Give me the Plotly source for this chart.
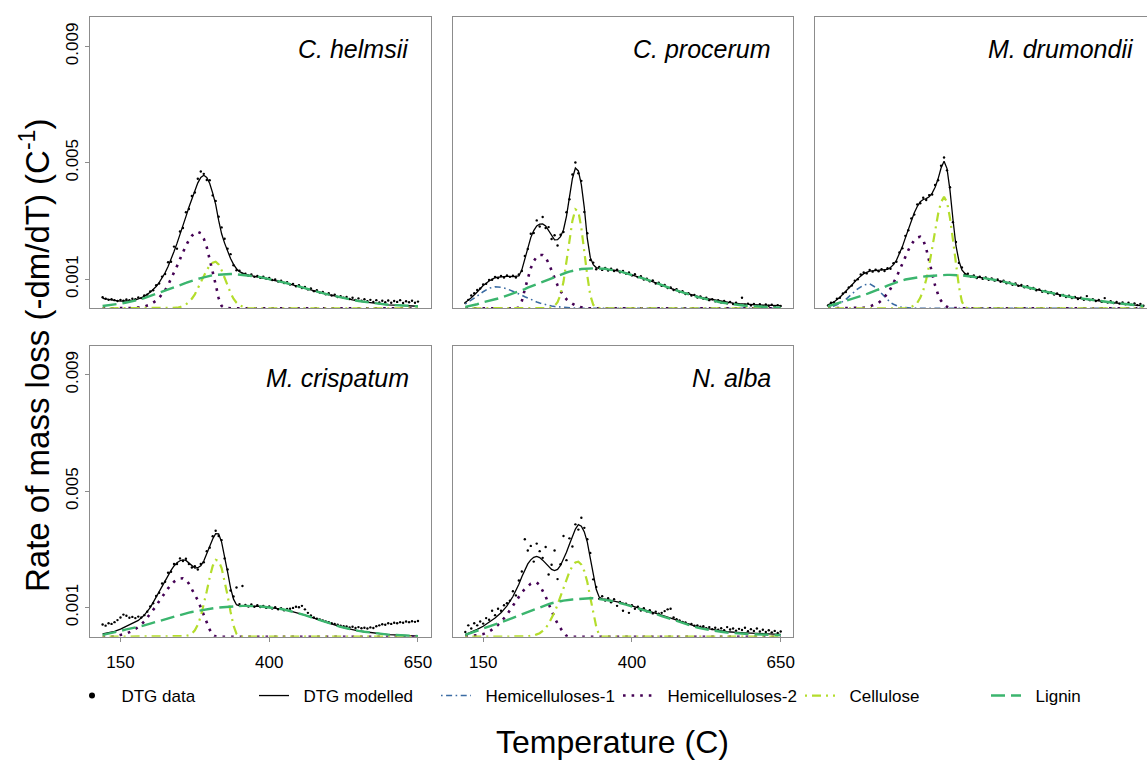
import plotly.graph_objects as go

# ---------------- data (rates in units of 1e-4 per degree C) ----------------
UNIT = 1e-4

T_DATA = [120,125,130,135,140,145,150,155,160,165,170,175,180,185,190,195,200,205,210,215,
          220,225,230,235,240,245,250,255,260,265,270,275,280,285,290,295,300,305,310,315,
          320,325,330,335,340,345,350,355,360,365,370,375,380,385,390,395,400,405,410,415,
          420,425,430,435,440,445,450,455,460,465,470,475,480,485,490,495,500,505,510,515,
          520,525,530,535,540,545,550,555,560,565,570,575,580,585,590,595,600,605,610,615,
          620,625,630,635,640,645,650]

T_MODEL = [120,130,140,150,160,170,180,190,200,
           205,210,215,220,225,230,235,240,245,250,255,260,265,270,275,280,285,290,295,300,
           305,310,315,320,325,330,335,340,345,350,355,360,365,370,375,380,385,390,395,400,
           405,410,415,420,
           430,440,450,460,470,480,490,500,510,520,530,540,550,560,570,580,590,600,610,620,
           630,640,650]

# --- C. helmsii ---
helm_data = [3.8,3.3,2.9,3.1,2.8,2.5,2.9,2.6,3.0,2.8, 3.3,3.1,3.7,3.5,4.4,4.7,5.8,6.2,7.9,8.5,
             10.9,11.8,15.8,16.0,21.2,20.5,26.4,27.6,33.0,34.1, 38.6,39.8,44.5,47.0,46.2,44.1,44.0,38.8,36.9,31.5,
             27.8,23.9,20.5,18.6,14.8,13.1,12.9,11.8,11.9,11.2, 11.6,10.8,11.1,10.5,10.9,10.2,10.4,9.7,9.9,9.2,
             9.5,8.7,9.0,8.2,8.4,7.6,7.9,7.0,7.3,6.5, 6.8,5.9,6.2,5.4,5.6,4.8,5.2,4.4,4.7,3.9,
             4.2,3.6,3.9,3.2,3.6,2.9,3.4,2.6,3.1,2.4, 2.9,2.2,2.8,2.0,2.6,2.1,2.7,1.9,2.5,2.2,
             2.8,1.8,2.4,2.1,2.6,1.9,2.3]
helm_model = [3.4,3.0,2.7,2.5,2.5,2.6,3.2,4.1,5.5,
              6.4,7.5,8.8,10.4,12.2,14.4,16.8,19.5,22.3,25.2,
              28.4,31.5,34.7,37.7,40.5,43.1,45.0,45.7,45.0,42.9,
              39.6,35.7,30.2,25.6,22.4,19.6,17.1,15.1,13.6,12.6,
              12.1,11.7,11.4,11.2,11.1,10.9,10.7,10.5,10.3,10.1,
              9.9,9.6,9.4,9.1,
              8.6,8.0,7.4,6.9,6.3,5.7,5.2,4.7,4.2,3.7,
              3.3,2.9,2.5,2.2,1.9,1.6,1.4,1.2,1.1,1.0,
              0.9,0.8,0.7]
helm_hemi2 = [0,0,0,0,0,0.1,0.3,0.6,1.3,
              1.9,2.6,3.6,4.8,6.2,8.0,10.0,12.2,14.5,16.9,
              19.3,21.5,23.4,24.9,25.9,26.3,25.8,24.0,21.0,17.0,
              12.5,8.2,3.5,0.8,0.1,0,0,0,0,0,
              0,0,0,0,0,0,0,0,0,0,
              0,0,0,0,
              0,0,0,0,0,0,0,0,0,0,0,0,0,0,0,0,0,0,0,0,0,0,0]
helm_cell = [0,0,0,0,0,0,0,0,0,
             0,0,0,0,0,0,0,0.1,0.2,0.4,
             0.8,1.3,2.2,3.3,4.8,6.7,8.8,11.0,13.1,14.7,
             15.7,16.0,15.1,13.1,10.5,7.8,5.3,3.3,1.9,1.0,
             0.5,0.2,0.1,0,0,0,0,0,0,0,
             0,0,0,0,
             0,0,0,0,0,0,0,0,0,0,0,0,0,0,0,0,0,0,0,0,0,0,0]
helm_lig = [0.8,1.0,1.3,1.6,2.0,2.4,2.9,3.5,4.2,
            4.5,4.9,5.2,5.6,6.0,6.4,6.8,7.2,7.6,7.9,
            8.3,8.7,9.1,9.5,9.8,10.1,10.4,10.7,10.9,11.2,
            11.4,11.5,11.6,11.7,11.8,11.8,11.8,11.8,11.7,11.6,
            11.6,11.5,11.3,11.2,11.1,10.9,10.7,10.5,10.3,10.1,
            9.9,9.6,9.4,9.1,
            8.6,8.0,7.4,6.9,6.3,5.7,5.2,4.7,4.2,3.7,
            3.3,2.9,2.5,2.2,1.9,1.6,1.4,1.2,1.1,1.0,
            0.9,0.8,0.7]

# --- C. procerum ---
proc_data = [1.8,2.9,4.4,5.2,6.3,6.8,8.2,8.4,9.7,9.8, 10.8,10.4,11.1,10.6,11.3,10.8,11.2,10.6,11.6,12.8,
             18.0,20.4,25.6,25.9,30.2,28.1,31.4,27.6,27.9,23.8, 25.1,21.6,25.3,26.2,33.0,37.5,46.0,50.1,46.4,43.8,
             33.1,25.8,16.6,15.7,13.4,14.2,13.2,13.9,13.0,13.6, 12.8,13.3,12.4,12.8,11.9,12.3,11.3,11.7,10.7,11.0,
             9.9,10.2,9.3,9.6,8.5,8.8,7.7,8.0,7.0,7.2, 6.3,6.6,5.6,5.9,4.9,5.2,4.4,4.6,3.7,4.1,
             3.3,3.6,2.8,3.1,2.4,2.8,2.0,2.5,1.7,2.2, 1.5,1.9,1.3,3.6,1.2,1.6,1.0,1.5,0.9,1.4,
             0.8,1.3,0.9,1.2,0.7,1.1,0.8]
proc_model = [2.0,3.6,5.6,7.8,9.4,10.5,10.8,11.0,10.9,
              10.9,11.1,13.2,17.1,21.1,24.3,26.7,28.3,28.9,29.0,
              28.3,26.7,24.9,23.5,23.6,24.6,27.0,31.6,38.2,44.6,
              48.2,47.2,42.5,34.5,24.0,17.5,15.0,14.0,13.7,13.7,
              13.6,13.4,13.3,13.1,12.9,12.7,12.4,12.2,11.9,11.6,
              11.3,10.9,10.6,10.2,
              9.5,8.7,8.0,7.2,6.5,5.8,5.2,4.6,4.0,3.6,
              3.2,2.8,2.4,2.1,1.8,1.6,1.4,1.3,1.2,1.1,
              1.0,0.9,0.9]
proc_hemi1 = [1.5,2.7,4.2,5.7,6.9,7.4,7.2,6.7,5.9,
              5.5,5.0,4.5,4.0,3.5,3.0,2.6,2.2,1.8,1.5,
              1.2,1.0,0.8,0.6,0.5,0.4,0.3,0.2,0.2,0.1,
              0.1,0,0,0,0,0,0,0,0,0,
              0,0,0,0,0,0,0,0,0,0,
              0,0,0,0,
              0,0,0,0,0,0,0,0,0,0,0,0,0,0,0,0,0,0,0,0,0,0,0]
proc_hemi2 = [0,0,0,0,0,0,0,0,0,
              0,0.3,2.5,6.5,10.5,13.8,16.2,17.7,18.3,18.3,
              17.4,15.5,13.0,10.3,7.9,5.9,4.3,3.1,2.2,1.5,
              1.0,0.6,0.3,0.1,0,0,0,0,0,0,
              0,0,0,0,0,0,0,0,0,0,
              0,0,0,0,
              0,0,0,0,0,0,0,0,0,0,0,0,0,0,0,0,0,0,0,0,0,0,0]
proc_cell = [0,0,0,0,0,0,0,0,0,
             0,0,0,0,0,0,0,0,0,0,
             0,0.1,0.3,0.8,2.1,4.7,9.1,15.6,23.2,30.1,
             34.0,33.3,27.6,19.1,11.2,4.5,1.2,0.2,0,0,
             0,0,0,0,0,0,0,0,0,0,
             0,0,0,0,
             0,0,0,0,0,0,0,0,0,0,0,0,0,0,0,0,0,0,0,0,0,0,0]
proc_lig = [0.5,0.9,1.4,2.1,2.5,3.1,3.6,4.3,5.0,
            5.4,5.8,6.2,6.6,7.1,7.5,7.9,8.4,8.8,9.2,
            9.7,10.1,10.5,10.9,11.3,11.7,12.0,12.3,12.6,12.9,
            13.1,13.3,13.5,13.6,13.7,13.8,13.8,13.8,13.7,13.7,
            13.6,13.4,13.3,13.1,12.9,12.7,12.4,12.2,11.9,11.6,
            11.3,10.9,10.6,10.2,
            9.5,8.7,8.0,7.2,6.5,5.8,5.1,4.5,3.9,3.4,
            2.9,2.4,2.0,1.7,1.4,1.2,0.9,0.8,0.6,0.5,
            0.4,0.3,0.2]

# --- M. drumondii ---
drum_data = [1.0,1.9,2.0,3.3,3.6,5.1,5.6,7.2,7.8,9.5, 10.0,11.6,12.3,12.0,13.2,12.6,13.3,12.7,13.4,12.8,
             13.8,13.6,15.5,16.0,19.2,20.6,24.9,26.8,30.9,32.2, 35.7,36.1,38.0,37.2,38.9,39.1,42.4,44.0,49.0,51.8,
             47.4,41.6,29.6,22.8,15.6,14.0,11.6,11.9,10.8,11.3, 10.4,10.9,10.1,10.6,9.8,10.3,9.5,9.9,9.1,9.5,
             8.6,8.9,8.1,8.5,7.7,8.0,7.2,7.6,6.8,7.0, 6.2,6.5,5.7,6.0,5.2,5.5,4.7,5.1,4.3,4.6,
             3.9,4.3,3.5,3.9,3.2,3.6,2.9,4.2,2.8,3.1, 2.5,2.9,2.2,3.5,2.0,2.4,1.8,2.2,1.6,2.0,
             1.4,1.9,1.2,1.7,1.1,1.5,0.9]
drum_model = [1.2,2.2,3.8,5.8,8.0,10.2,11.9,12.8,13.0,
              13.0,13.0,13.1,13.4,14.0,15.0,16.5,18.6,21.2,24.2,
              27.3,30.2,32.8,35.0,36.6,37.4,37.7,38.3,39.6,41.6,
              44.5,48.2,50.5,48.0,40.5,30.5,21.5,16.3,13.2,12.0,
              11.4,11.1,10.9,10.7,10.6,10.4,10.3,10.1,10.0,9.8,
              9.6,9.4,9.2,8.9,
              8.4,7.9,7.5,7.0,6.5,6.0,5.5,5.0,4.6,4.2,
              3.8,3.5,3.2,3.0,2.7,2.4,2.2,1.9,1.7,1.4,
              1.2,1.0,0.8]
drum_hemi1 = [0.4,0.8,1.7,3.1,4.9,6.7,8.0,8.4,7.2,
              6.2,5.1,4.0,2.9,2.0,1.4,0.9,0.5,0.3,0.2,
              0.1,0,0,0,0,0,0,0,0,0,
              0,0,0,0,0,0,0,0,0,0,
              0,0,0,0,0,0,0,0,0,0,
              0,0,0,0,
              0,0,0,0,0,0,0,0,0,0,0,0,0,0,0,0,0,0,0,0,0,0,0]
drum_hemi2 = [0,0,0,0,0,0,0.2,0.6,1.3,
              1.9,2.7,3.8,5.1,6.7,8.6,10.7,13.0,15.4,17.8,
              20.0,21.9,23.4,24.3,24.6,23.5,20.5,16.3,11.8,7.8,
              4.7,2.6,1.3,0.5,0.2,0.1,0,0,0,0,
              0,0,0,0,0,0,0,0,0,0,
              0,0,0,0,
              0,0,0,0,0,0,0,0,0,0,0,0,0,0,0,0,0,0,0,0,0,0,0]
drum_cell = [0,0,0,0,0,0,0,0,0,
             0,0,0,0,0,0,0,0,0,0,
             0,0.5,1.0,1.9,3.6,6.1,9.9,14.8,20.6,26.7,
             32.4,36.5,38.3,36.5,31.0,23.5,15.0,7.5,2.3,0.4,
             0,0,0,0,0,0,0,0,0,0,
             0,0,0,0,
             0,0,0,0,0,0,0,0,0,0,0,0,0,0,0,0,0,0,0,0,0,0,0]
drum_lig = [0.7,1.3,2.0,2.6,3.2,3.8,4.5,5.3,6.0,
            6.4,6.9,7.3,7.8,8.2,8.6,9.0,9.3,9.6,9.9,
            10.1,10.3,10.5,10.7,10.8,10.9,11.0,11.1,11.2,11.3,
            11.4,11.4,11.5,11.5,11.5,11.5,11.5,11.4,11.3,11.2,
            11.1,11.0,10.9,10.7,10.6,10.4,10.3,10.1,10.0,9.8,
            9.6,9.4,9.2,8.9,
            8.4,7.9,7.5,7.0,6.5,6.0,5.5,5.0,4.6,4.2,
            3.8,3.5,3.2,3.0,2.7,2.4,2.2,1.9,1.7,1.4,
            1.2,1.0,0.8]

# --- M. crispatum ---
cris_data = [4.2,3.8,4.6,4.4,5.0,5.7,6.6,7.6,7.2,6.5, 6.8,6.4,6.9,6.6,7.4,8.6,10.4,11.5,14.0,15.1,
             18.3,18.9,22.0,22.3,25.0,25.0,26.9,26.0,26.8,25.0, 23.8,24.2,23.1,25.0,25.6,29.4,30.6,34.5,36.4,34.6,
             33.2,26.9,23.1,15.9,13.8,16.9,11.2,17.4,10.9,10.4, 11.1,10.3,10.8,10.2,10.6,9.9,10.4,9.7,10.1,9.4,
             9.8,9.1,9.5,9.6,9.9,10.3,10.1,10.6,9.4,8.2, 7.3,6.6,6.2,5.9,5.6,5.2,5.0,4.6,4.4,4.1,
             3.8,3.6,3.5,3.2,3.4,3.0,3.3,2.9,3.1,2.8, 3.2,3.0,3.6,3.9,4.3,4.1,4.6,4.4,4.8,4.6,
             5.0,4.8,5.2,5.0,5.3,5.1,5.4]
cris_model = [1.0,1.3,1.8,2.6,3.6,4.4,5.6,7.4,10.0,
              11.8,13.6,15.6,17.6,19.5,21.2,22.8,24.3,25.4,26.1,
              26.4,26.2,25.4,24.3,23.6,23.7,24.4,26.0,28.5,31.2,
              33.6,35.4,35.3,32.5,27.8,22.3,16.8,12.9,11.0,10.6,
              10.6,10.6,10.6,10.6,10.5,10.5,10.4,10.3,10.2,10.1,
              10.0,9.8,9.7,9.5,
              9.1,8.6,8.0,7.4,6.7,6.0,5.3,4.6,4.0,3.4,
              2.9,2.4,2.0,1.7,1.4,1.1,0.9,0.7,0.6,0.5,
              0.4,0.3,0.2]
cris_hemi2 = [0,0,0,0.6,1.1,2.0,3.3,5.2,7.7,
              9.1,10.6,12.2,13.7,15.3,16.6,17.8,18.9,19.6,20.0,
              20.1,19.6,18.2,16.3,14.5,12.5,10.0,7.3,4.9,2.4,
              0.6,0.1,0,0,0,0,0,0,0,0,
              0,0,0,0,0,0,0,0,0,0,
              0,0,0,0,
              0,0,0,0,0,0,0,0,0,0,0,0,0,0,0,0,0,0,0,0,0,0,0]
cris_cell = [0,0,0,0,0,0,0,0,0,
             0,0,0,0,0,0,0,0,0,0,
             0.1,0.2,0.5,1.0,2.2,4.1,7.0,10.9,15.6,20.4,
             24.3,26.4,26.0,23.6,19.4,14.2,8.6,3.8,1.0,0.1,
             0,0,0,0,0,0,0,0,0,0,
             0,0,0,0,
             0,0,0,0,0,0,0,0,0,0,0,0,0,0,0,0,0,0,0,0,0,0,0]
cris_lig = [0.6,1.0,1.5,2.0,2.5,2.9,3.3,3.9,4.5,
            4.8,5.1,5.4,5.8,6.1,6.4,6.7,7.0,7.3,7.6,
            7.8,8.1,8.3,8.5,8.7,8.9,9.1,9.3,9.4,9.6,
            9.7,9.9,10.0,10.1,10.2,10.3,10.4,10.5,10.5,10.6,
            10.6,10.6,10.6,10.6,10.5,10.5,10.4,10.3,10.2,10.1,
            10.0,9.8,9.7,9.5,
            9.1,8.6,8.0,7.4,6.7,6.0,5.3,4.6,4.0,3.4,
            2.9,2.4,2.0,1.7,1.4,1.1,0.9,0.7,0.6,0.5,
            0.4,0.3,0.2]

# --- N. alba ---
alba_data = [1.6,3.9,2.8,4.6,3.9,5.2,4.5,6.4,5.8,8.9, 7.4,9.6,8.9,10.8,11.5,12.4,15.6,14.2,19.3,22.4,
             33.5,29.6,31.2,25.8,32.0,29.4,27.1,30.8,21.4,24.7, 29.6,19.8,24.9,34.6,26.3,33.8,31.0,38.6,36.8,40.9,
             37.4,33.5,28.8,19.7,17.1,13.0,13.9,12.4,13.2,11.8, 12.9,10.6,11.9,8.9,11.3,8.2,10.8,9.6,10.3,9.0,
             9.8,8.7,9.1,8.0,8.6,7.9,8.2,8.8,9.4,9.6, 6.6,6.0,5.6,5.1,4.9,4.3,4.4,3.8,3.9,3.4,
             3.6,2.9,3.3,2.6,3.1,2.4,2.9,2.2,3.3,2.5, 2.8,2.1,2.7,2.3,3.1,1.9,2.6,2.0,2.8,1.8,
             2.4,1.6,2.2,1.5,2.0,1.3,1.8]
alba_model = [0.7,1.5,2.5,3.6,4.9,6.4,8.2,10.6,13.8,
              15.8,18.0,20.6,23.0,25.0,26.4,27.3,27.6,27.2,26.3,
              25.1,24.0,23.1,22.7,23.1,24.5,26.6,29.0,31.8,34.6,
              37.0,38.5,38.0,36.0,32.5,27.0,21.0,16.3,13.6,12.9,
              12.9,12.7,12.5,12.3,12.0,11.8,11.5,11.2,10.9,10.6,
              10.3,10.0,9.7,9.4,
              8.8,8.1,7.4,6.7,6.0,5.3,4.6,4.0,3.4,3.0,
              2.6,2.3,2.0,1.7,1.5,1.4,1.3,1.2,1.1,1.0,
              0.9,0.8,0.8]
alba_hemi2 = [0.1,0.2,0.5,0.9,1.8,3.1,5.1,7.6,10.7,
              12.2,13.7,15.2,16.4,17.4,18.2,18.5,18.6,17.7,16.0,
              13.8,11.3,8.8,6.5,4.5,2.8,1.3,0.3,0,0,
              0,0,0,0,0,0,0,0,0,0,
              0,0,0,0,0,0,0,0,0,0,
              0,0,0,0,
              0,0,0,0,0,0,0,0,0,0,0,0,0,0,0,0,0,0,0,0,0,0,0]
alba_cell = [0,0,0,0,0,0,0,0,0,
             0,0,0,0.1,0.1,0.3,0.4,0.8,1.2,2.0,
             3.0,4.4,6.2,8.4,11.0,13.9,16.9,19.8,22.3,24.3,
             25.5,25.8,24.8,22.5,18.8,13.5,8.3,3.5,0.5,0,
             0,0,0,0,0,0,0,0,0,0,
             0,0,0,0,
             0,0,0,0,0,0,0,0,0,0,0,0,0,0,0,0,0,0,0,0,0,0,0]
alba_lig = [0.6,1.3,2.0,2.8,3.5,4.2,5.0,5.7,6.5,
            6.9,7.3,7.7,8.1,8.5,9.0,9.4,9.8,10.2,10.6,
            10.9,11.2,11.5,11.8,12.0,12.2,12.4,12.6,12.7,12.8,
            12.9,13.0,13.1,13.2,13.2,13.2,13.2,13.1,13.0,12.9,
            12.7,12.5,12.3,12.1,11.8,11.6,11.3,11.0,10.7,10.4,
            10.1,9.8,9.5,9.2,
            8.5,7.8,7.1,6.4,5.7,5.0,4.3,3.7,3.1,2.7,
            2.3,2.0,1.7,1.4,1.2,1.1,1.0,0.9,0.8,0.7,
            0.6,0.5,0.5]

SPECIES = ["C. helmsii", "C. procerum", "M. drumondii", "M. crispatum", "N. alba"]
X_TICKS = [150, 400, 650]
Y_TICKS = [0.001, 0.005, 0.009]
Y_TICK_TEXT = ["0.001", "0.005", "0.009"]
LEGEND_NAMES = ["DTG data", "DTG modelled", "Hemicelluloses-1", "Hemicelluloses-2", "Cellulose", "Lignin"]

# ---------------- styling ----------------
W, H = 1147, 762
FONT = "Liberation Sans, Arial, sans-serif"
BOX = "#8c8c8c"
STYLE = {
    "DTG modelled": dict(color="#000000", width=1.3),
    "Hemicelluloses-1": dict(color="#3A6BA3", width=1.6, dash="1.6px,3.5px,6px,3.5px"),
    "Hemicelluloses-2": dict(color="#440154", width=2.6, dash="2.6px,6px"),
    "Cellulose": dict(color="#B4DD2C", width=2.2, dash="2px,5px,9px,5px"),
    "Lignin": dict(color="#3BB56E", width=2.4, dash="14px,6px"),
}

px_per_unit = 340.6 / (671.2 - 98.8)
COLS = [(90.0, 430.7), (452.7, 793.3), (815.4, 1147.0)]
ROWS = [(17.3, 308.3), (345.7, 636.7)]
PANEL_POS = [(0, 0), (0, 1), (0, 2), (1, 0), (1, 1)]

panels = [
    (helm_data, helm_model, [("Hemicelluloses-2", helm_hemi2), ("Cellulose", helm_cell), ("Lignin", helm_lig)]),
    (proc_data, proc_model, [("Hemicelluloses-1", proc_hemi1), ("Hemicelluloses-2", proc_hemi2),
                             ("Cellulose", proc_cell), ("Lignin", proc_lig)]),
    (drum_data, drum_model, [("Hemicelluloses-1", drum_hemi1), ("Hemicelluloses-2", drum_hemi2),
                             ("Cellulose", drum_cell), ("Lignin", drum_lig)]),
    (cris_data, cris_model, [("Hemicelluloses-2", cris_hemi2), ("Cellulose", cris_cell), ("Lignin", cris_lig)]),
    (alba_data, alba_model, [("Hemicelluloses-2", alba_hemi2), ("Cellulose", alba_cell), ("Lignin", alba_lig)]),
]

fig = go.Figure()
layout = {}
annotations = []

for i, ((row, col), (data, model, comps), name) in enumerate(zip(PANEL_POS, panels, SPECIES)):
    k = i + 1
    xa = "x" if k == 1 else f"x{k}"
    ya = "y" if k == 1 else f"y{k}"
    assert len(data) == len(T_DATA), (name, len(data))
    assert len(model) == len(T_MODEL), (name, len(model))
    fig.add_trace(go.Scatter(x=T_DATA, y=[v * UNIT for v in data], mode="markers",
                             marker=dict(color="black", size=2.4), showlegend=False,
                             xaxis=xa, yaxis=ya, hoverinfo="skip"))
    fig.add_trace(go.Scatter(x=T_MODEL, y=[v * UNIT for v in model], mode="lines",
                             line=STYLE["DTG modelled"], showlegend=False, xaxis=xa, yaxis=ya))
    for cname, vals in comps:
        assert len(vals) == len(T_MODEL), (name, cname, len(vals))
        fig.add_trace(go.Scatter(x=T_MODEL, y=[v * UNIT for v in vals], mode="lines",
                                 line=STYLE[cname], showlegend=False, xaxis=xa, yaxis=ya))

    x0, x1 = COLS[col]
    y0, y1 = ROWS[row]
    xr0 = 98.8
    xr1 = xr0 + (x1 - x0) / px_per_unit
    show_x = row == 1
    show_y = col == 0
    layout["xaxis" if k == 1 else f"xaxis{k}"] = dict(
        domain=[x0 / W, x1 / W], anchor=ya, range=[xr0, xr1],
        showgrid=False, zeroline=False, showline=True, mirror=True,
        linecolor=BOX, linewidth=1,
        tickmode="array", tickvals=X_TICKS, ticktext=[str(t) for t in X_TICKS],
        ticks="outside" if show_x else "", ticklen=4, tickcolor=BOX,
        showticklabels=show_x, tickfont=dict(family=FONT, size=17, color="black"),
        ticklabelstandoff=6,
    )
    layout["yaxis" if k == 1 else f"yaxis{k}"] = dict(
        domain=[1 - y1 / H, 1 - y0 / H], anchor=xa, range=[0.0, 0.01],
        showgrid=False, zeroline=False, showline=True, mirror=True,
        linecolor=BOX, linewidth=1,
        tickmode="array", tickvals=Y_TICKS, ticktext=Y_TICK_TEXT,
        ticks="outside" if show_y else "", ticklen=4, tickcolor=BOX,
        showticklabels=show_y, tickangle=-90,
        tickfont=dict(family=FONT, size=17, color="black"),
    )
    title_right = x0 + 340.6 - 20
    annotations.append(dict(
        text=f"<i>{name}</i>", xref="paper", yref="paper",
        x=title_right / W, y=1 - (y0 + 32.0) / H, xanchor="right", yanchor="middle",
        showarrow=False, font=dict(family=FONT, size=25, color="black")))

# legend-only entries (labels padded so the text sits a little away from its key)
PAD = "\u00a0\u00a0"
fig.add_trace(go.Scatter(x=[None], y=[None], mode="markers", name=PAD + LEGEND_NAMES[0],
                         marker=dict(color="black", size=6), legend="legend"))
for nm in LEGEND_NAMES[1:]:
    fig.add_trace(go.Scatter(x=[None], y=[None], mode="lines", name=PAD + nm, line=STYLE[nm],
                             legend="legend2" if nm == "Lignin" else "legend"))

annotations.append(dict(text="Temperature (C)", xref="paper", yref="paper",
                        x=612 / W, y=1 - 742 / H, xanchor="center", yanchor="middle",
                        showarrow=False, font=dict(family=FONT, size=32, color="black")))
annotations.append(dict(text="Rate of mass loss (-dm/dT) (C<sup>-1</sup>)", xref="paper", yref="paper",
                        x=35 / W, y=1 - 356 / H, xanchor="center", yanchor="middle", textangle=-90,
                        showarrow=False, font=dict(family=FONT, size=33, color="black")))

legend_common = dict(orientation="h", yanchor="middle", y=1 - 696 / H, xanchor="left",
                     itemwidth=30, font=dict(family=FONT, size=17, color="black"),
                     bgcolor="rgba(0,0,0,0)", traceorder="normal")

fig.update_layout(
    width=W, height=H, margin=dict(l=0, r=0, t=0, b=0, autoexpand=False),
    plot_bgcolor="white", paper_bgcolor="white",
    font=dict(family=FONT, color="black"),
    annotations=annotations,
    showlegend=True,
    legend=dict(x=72 / W, entrywidth=137, entrywidthmode="pixels", **legend_common),
    legend2=dict(x=986 / W, **legend_common),
    **layout,
)

fig.write_html("out.html")
